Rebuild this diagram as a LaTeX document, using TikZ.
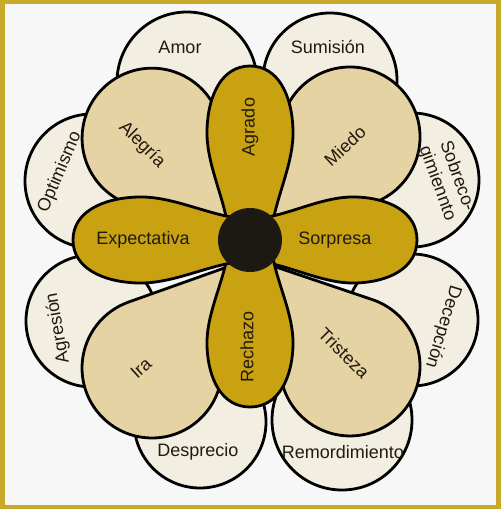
\documentclass[tikz,border=0pt]{standalone}
\usepackage{fontspec}
\setmainfont{Liberation Sans}

\definecolor{framegold}{HTML}{C9A92A}
\definecolor{paper}{HTML}{F7F7F7}
\definecolor{cream}{HTML}{F3EEE2}
\definecolor{leaftan}{HTML}{E6D3A3}
\definecolor{leafgold}{HTML}{C9A212}
\definecolor{core}{HTML}{1B1911}
\definecolor{ink}{HTML}{221A0E}

\tikzset{
  dyad/.style={fill=cream, draw=black, line width=2.8pt},
  tanleaf/.style={fill=leaftan, draw=black, line width=2.8pt, line join=round},
  goldleaf/.style={fill=leafgold, draw=black, line width=2.8pt, line join=round},
  lbl/.style={text=ink, inner sep=0pt, font=\fontsize{18}{21}\selectfont}
}

% gold petal: direction, length
\newcommand{\goldpetal}[2]{%
  \begin{scope}[rotate=#1, xscale=#2/174]
    \filldraw[goldleaf] (5,21) .. controls (40,24) and (75,44) .. (110,43)
      .. controls (145,42) and (174,28) .. (174,0)
      .. controls (174,-28) and (145,-42) .. (110,-43)
      .. controls (75,-44) and (40,-24) .. (5,-21) -- cycle;
  \end{scope}}

% tan petal: tip x, tip y, direction, length to round end
\newcommand{\tanpetal}[4]{%
  \pgfmathsetmacro{\tang}{asin(70/#4)}
  \begin{scope}[shift={(#1,#2)}, rotate=#3]
    \filldraw[tanleaf] (0,0) -- ([shift={(#4,0)}]90+\tang:70)
      arc[start angle=90+\tang, end angle=-90-\tang, radius=70] -- cycle;
  \end{scope}}

\begin{document}
\begin{tikzpicture}[x=1pt, y=1pt]
\useasboundingbox (-250,-269) rectangle (251,240);
\fill[framegold] (-250,-269) rectangle (251,240);
\fill[paper] (-245,-265) rectangle (246,236);
%
\filldraw[dyad] (-63,158) circle (70);
\filldraw[dyad] (80,160) circle (67);
\filldraw[dyad] (162,60) circle (67);
\filldraw[dyad] (162,-80) circle (66);
\filldraw[dyad] (92,-180) circle (70);
\filldraw[dyad] (-50,-182) circle (66);
\filldraw[dyad] (-158,-81) circle (66);
\filldraw[dyad] (-158,59) circle (67);
%
\tanpetal{-20}{20}{133.6}{113}
\tanpetal{20}{21}{45.7}{114.6}
\tanpetal{20}{-25}{-51.6}{128.8}
\tanpetal{-20}{-26}{232.6}{128.4}
%
\goldpetal{90}{174}
\goldpetal{0}{167}
\goldpetal{-90}{167}
\goldpetal{180}{177}
%
\fill[core] (0,0) circle (32);
%
\node [lbl] at (-70,193) (amor) {Amor};
\node [lbl] at (78,193) (sumision) {Sumisión};
\node [lbl, rotate=-70, align=center] at (197,60) (sobrecogimiento) {Sobreco-\\gimiennto};
\node [lbl, rotate=-107] at (193,-87) (decepcion) {Decepción};
\node [lbl] at (93,-212) (remordimiento) {Remordimiento};
\node [lbl] at (-52,-212) (desprecio) {Desprecio};
\node [lbl, rotate=100] at (-192,-88) (agresion) {Agresión};
\node [lbl, rotate=67] at (-190,68) (optimismo) {Optimismo};
%
\node [lbl, rotate=-45] at (-108,95) (alegria) {Alegría};
\node [lbl, rotate=43] at (95,94) (miedo) {Miedo};
\node [lbl, rotate=-45] at (94,-113) (tristeza) {Tristeza};
\node [lbl, rotate=42] at (-109,-128) (ira) {Ira};
%
\node [lbl, rotate=90] at (0,113) (agrado) {Agrado};
\node [lbl, rotate=90] at (-3,-107) (rechazo) {Rechazo};
\node [lbl] at (-107,0) (expectativa) {Expectativa};
\node [lbl] at (85,0) (sorpresa) {Sorpresa};
\end{tikzpicture}
\end{document}
